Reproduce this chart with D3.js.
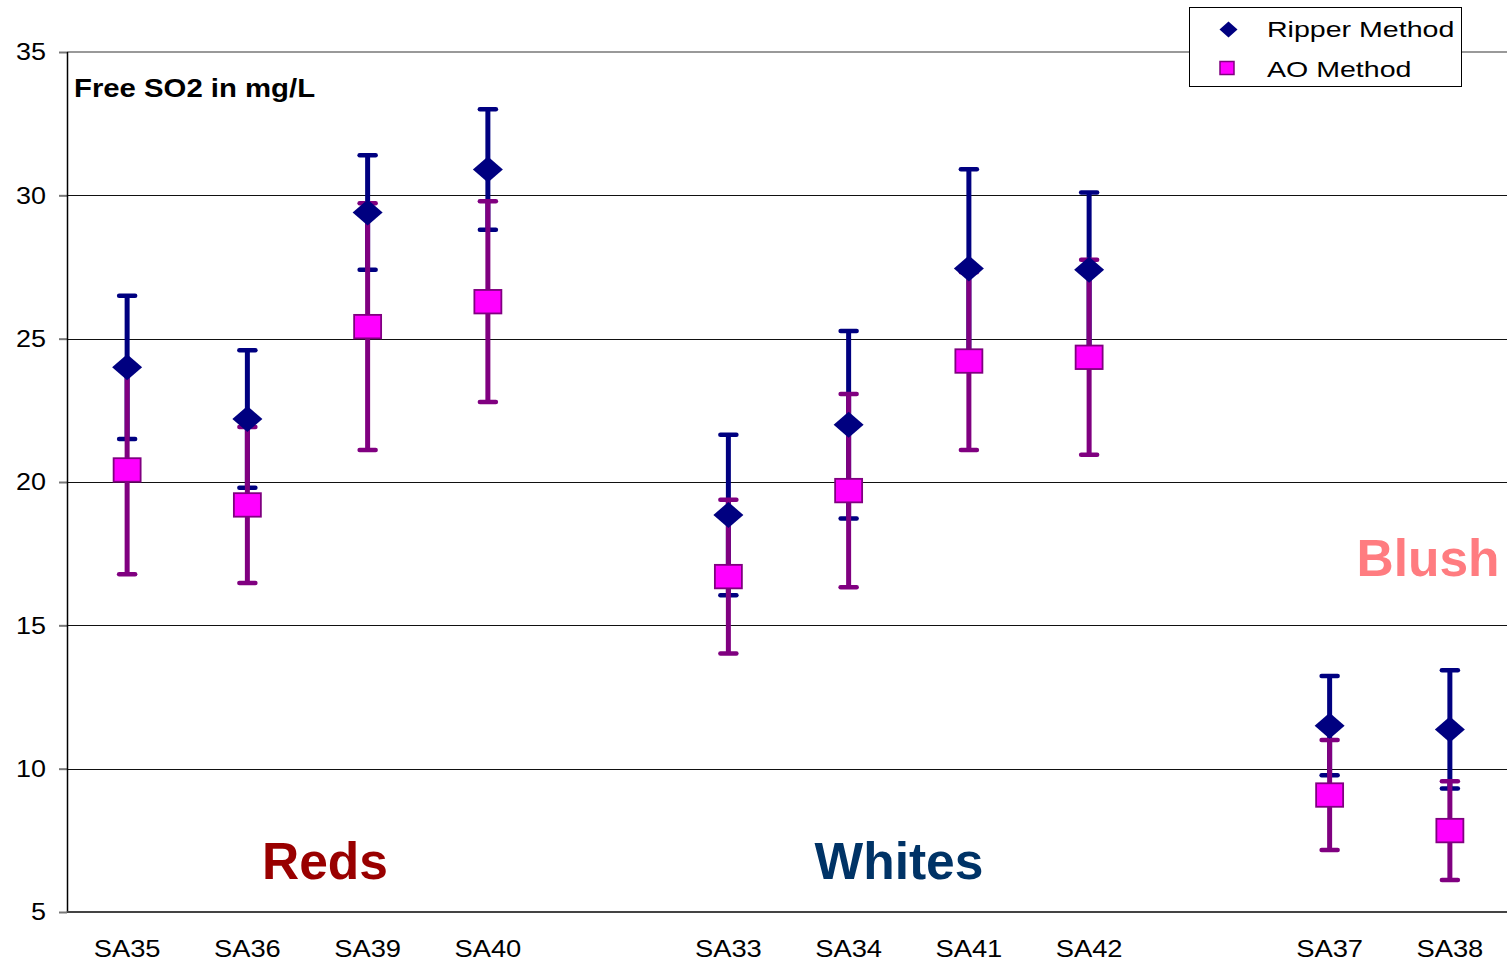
<!DOCTYPE html>
<html>
<head>
<meta charset="utf-8">
<script src="https://cdn.jsdelivr.net/npm/d3@7"></script>
<style>
  html, body { margin: 0; padding: 0; background: #fff; }
  svg { display: block; font-family: Arial, "Liberation Sans", sans-serif; }
</style>
</head>
<body>
<svg id="chart" width="1507" height="966"></svg>
<script>
// Free SO2 measured by two methods, grouped by wine style
const categories = ["SA35", "SA36", "SA39", "SA40", "SA33", "SA34", "SA41", "SA42", "SA37", "SA38"];
const categoryGroup = ["Reds", "Reds", "Reds", "Reds", "Whites", "Whites", "Whites", "Whites", "Blush", "Blush"];
const groups = ["Reds", "Whites", "Blush"];

const ripperValues = [24.0, 22.2, 29.4, 30.9, 18.85, 22.0, 27.45, 27.4, 11.5, 11.37];
const ripperErrors = [2.5, 2.4, 2.0, 2.1, 2.8, 3.27, 3.46, 2.7, 1.73, 2.06];
const aoValues = [20.42, 19.2, 25.42, 26.29, 16.7, 19.7, 24.22, 24.35, 9.08, 7.84];
const aoErrors = [3.64, 2.72, 4.3, 3.5, 2.68, 3.37, 3.1, 3.4, 1.92, 1.72];

const yTicks = [5, 10, 15, 20, 25, 30, 35];
const seriesNames = ["Ripper Method", "AO Method"];
const chartTitle = "Free SO2 in mg/L";

const svg = d3.select("#chart");
const plot = { left: 67, right: 1510, top: 52, bottom: 912 };

// one slot per sample, plus an empty slot between style groups
const slots = [];
categories.forEach((c, i) => {
  if (i > 0 && categoryGroup[i] !== categoryGroup[i - 1]) slots.push("gap-" + i);
  slots.push(c);
});

const x = d3.scaleBand().domain(slots).range([plot.left, plot.right]);
const cx = c => x(c) + x.bandwidth() / 2;
const y = d3.scaleLinear().domain([5, 35]).range([plot.bottom, plot.top]);

// horizontal grid lines
svg.append("g").selectAll("line")
  .data(yTicks.filter(t => t > 5 && t < 35))
  .join("line")
  .attr("x1", plot.left).attr("x2", 1507)
  .attr("y1", d => Math.round(y(d)) + 0.5).attr("y2", d => Math.round(y(d)) + 0.5)
  .attr("stroke", "#111").attr("stroke-width", 1);

// top border line
svg.append("line")
  .attr("x1", plot.left).attr("x2", 1507)
  .attr("y1", y(35)).attr("y2", y(35))
  .attr("stroke", "#999").attr("stroke-width", 2);

// y axis
const yAxis = svg.append("g")
  .attr("transform", `translate(${plot.left},0)`)
  .call(d3.axisLeft(y).tickValues(yTicks).tickSize(8).tickPadding(11));
yAxis.select(".domain").remove();
yAxis.selectAll(".tick line").attr("stroke", "#777").attr("stroke-width", 2);
yAxis.selectAll(".tick text")
  .attr("font-size", 24.5).attr("fill", "#000")
  .attr("font-family", "Arial, 'Liberation Sans', sans-serif")
  .attr("transform", "scale(1.1,1)");

svg.append("line")
  .attr("x1", plot.left + 0.5).attr("x2", plot.left + 0.5)
  .attr("y1", y(35)).attr("y2", y(5))
  .attr("stroke", "#000").attr("stroke-width", 1.5);

// x axis
const xAxis = svg.append("g")
  .attr("transform", `translate(0,${plot.bottom})`)
  .call(d3.axisBottom(x).tickValues(categories).tickSize(0).tickPadding(28));
xAxis.select(".domain").remove();
xAxis.selectAll(".tick text")
  .attr("font-size", 24).attr("fill", "#000")
  .attr("font-family", "Arial, 'Liberation Sans', sans-serif")
  .attr("transform", "scale(1.14,1)");

svg.append("line")
  .attr("x1", plot.left).attr("x2", 1507)
  .attr("y1", plot.bottom).attr("y2", plot.bottom)
  .attr("stroke", "#444").attr("stroke-width", 2);

// error bars
function errorBars(values, errors, color) {
  const g = svg.append("g");
  const rows = categories.map((c, i) => ({ c, v: values[i], e: errors[i] }));
  g.selectAll("line.stem").data(rows).join("line")
    .attr("class", "stem")
    .attr("x1", d => cx(d.c)).attr("x2", d => cx(d.c))
    .attr("y1", d => y(d.v + d.e)).attr("y2", d => y(d.v - d.e))
    .attr("stroke", color).attr("stroke-width", 5);
  const caps = rows.flatMap(d => [d.v + d.e, d.v - d.e].map(t => ({ c: d.c, t })));
  g.selectAll("line.cap").data(caps).join("line")
    .attr("class", "cap")
    .attr("x1", d => cx(d.c) - 8).attr("x2", d => cx(d.c) + 8)
    .attr("y1", d => y(d.t)).attr("y2", d => y(d.t))
    .attr("stroke", color).attr("stroke-width", 4.5)
    .attr("stroke-linecap", "round");
}
errorBars(ripperValues, ripperErrors, "#000080");
errorBars(aoValues, aoErrors, "#800080");

// AO markers (squares)
const sqW = 27, sqH = 23.5;
svg.append("g").selectAll("rect")
  .data(categories.map((c, i) => ({ c, v: aoValues[i] })))
  .join("rect")
  .attr("x", d => cx(d.c) - sqW / 2).attr("y", d => y(d.v) - sqH / 2)
  .attr("width", sqW).attr("height", sqH)
  .attr("fill", "#FF00FF").attr("stroke", "#800080").attr("stroke-width", 1.8);

// Ripper markers (diamonds)
const dW = 15, dH = 13;
svg.append("g").selectAll("path")
  .data(categories.map((c, i) => ({ c, v: ripperValues[i] })))
  .join("path")
  .attr("d", d => {
    const px = cx(d.c), py = y(d.v);
    return `M${px},${py - dH}L${px + dW},${py}L${px},${py + dH}L${px - dW},${py}Z`;
  })
  .attr("fill", "#000080");

// chart title inside plot
svg.append("text")
  .attr("transform", "translate(74,97) scale(1.15,1)")
  .attr("font-size", 25.5).attr("font-weight", "bold").attr("fill", "#000")
  .text(chartTitle);

// group labels
const groupColors = { Reds: "#990000", Whites: "#003366", Blush: "#FF7C80" };
const groupLabelPos = { Reds: [325, 6.15], Whites: [899, 6.15], Blush: [1428, 16.72] };
svg.append("g").selectAll("text")
  .data(groups)
  .join("text")
  .attr("x", g => groupLabelPos[g][0])
  .attr("y", g => y(groupLabelPos[g][1]))
  .attr("text-anchor", "middle")
  .attr("font-size", 51.5).attr("font-weight", "bold")
  .attr("fill", g => groupColors[g])
  .text(g => g);

// legend
const legend = svg.append("g");
legend.append("rect")
  .attr("x", 1189.5).attr("y", 7.5).attr("width", 272).attr("height", 79)
  .attr("fill", "#fff").attr("stroke", "#000").attr("stroke-width", 1);
legend.append("path")
  .attr("d", "M1228.5,21.5L1237.5,29.5L1228.5,37.5L1219.5,29.5Z")
  .attr("fill", "#000080");
legend.append("rect")
  .attr("x", 1220).attr("y", 61.5).attr("width", 14).attr("height", 13)
  .attr("fill", "#FF00FF").attr("stroke", "#800080").attr("stroke-width", 1.5);
seriesNames.forEach((name, i) => {
  legend.append("text")
    .attr("transform", `translate(1267,${i === 0 ? 36.5 : 76.5}) scale(1.27,1)`)
    .attr("font-size", 22.5).attr("fill", "#000")
    .text(name);
});
</script>
</body>
</html>
